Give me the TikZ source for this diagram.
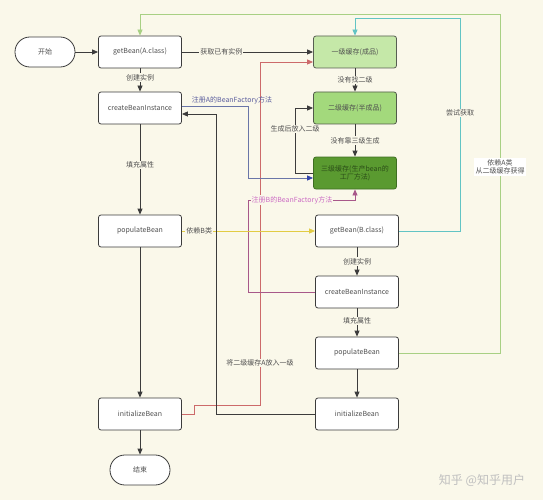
\documentclass[tikz,border=0pt]{standalone}
\usepackage{fontspec}
\setmainfont{Noto Sans CJK SC}
\usetikzlibrary{arrows.meta}
\definecolor{bgc}{HTML}{FAF8EA}
\definecolor{bordc}{HTML}{3C3C3C}
\definecolor{txtc}{HTML}{505050}
\definecolor{gA}{HTML}{C5E8A8}
\definecolor{gB}{HTML}{A3D97C}
\definecolor{gC}{HTML}{5A9A30}
\definecolor{gCb}{HTML}{3E6E22}
\definecolor{bluec}{HTML}{6A76A8}
\definecolor{bluetip}{HTML}{3344AA}
\definecolor{bluetxt}{HTML}{5B5E9E}
\definecolor{pinkc}{HTML}{A8588A}
\definecolor{pinktxt}{HTML}{CC6CC4}
\definecolor{redc}{HTML}{CC6A6A}
\definecolor{yelc}{HTML}{E2CC44}
\definecolor{tealc}{HTML}{62C4C4}
\definecolor{grnc}{HTML}{A8D084}
\tikzset{
  every node/.style={font=\fontsize{7}{8.5}\selectfont, text=txtc},
  box/.style={draw=bordc, fill=white, rounded corners=2.5pt, line width=0.8pt,
    minimum width=83pt, minimum height=32pt, inner sep=0pt, align=center},
  term/.style={draw=bordc, fill=white, rounded corners=14.9pt, line width=0.8pt,
    minimum width=60pt, minimum height=30pt, inner sep=0pt},
  lbl/.style={fill=bgc, inner sep=1pt, text=txtc},
  conn/.style={draw=bordc, line width=0.8pt, -{Triangle[length=6pt,width=5pt]}},
  plain/.style={draw=bordc, line width=0.8pt},
}
\begin{document}
\begin{tikzpicture}[x=1pt,y=-1pt]
\fill[bgc] (0,0) rectangle (543,500);
\useasboundingbox (0,0) rectangle (543,500);

% left column (A)
\node[term] (start) at (45,52) {开始};
\node[box] (gAc) at (140,52) {getBean(A.class)};
\node[box] (cA) at (140,108) {createBeanInstance};
\node[box] (pA) at (140,231) {populateBean};
\node[box] (iA) at (140,414) {initializeBean};
\node[term] (stop) at (140,470) {结束};

% caches
\node[box, fill=gA, draw=bordc!80!gA] (l1) at (355,52) {一级缓存(成品)};
\node[box, fill=gB, draw=bordc!80!gB] (l2) at (355,108) {二级缓存(半成品)};
\node[box, fill=gC, draw=gCb, text=gCb!70!black] (l3) at (355,173) {三级缓存(生产bean的\\工厂方法)};

% right column (B)
\node[box] (gBc) at (357,231) {getBean(B.class)};
\node[box] (cB) at (357,292) {createBeanInstance};
\node[box] (pB) at (357,353) {populateBean};
\node[box] (iB) at (357,414) {initializeBean};

% coordinates for bends
\coordinate (tealtop) at (460,18);
\coordinate (grntop) at (500,14);
\coordinate (blueturn) at (248,178);
\coordinate (pinkturn) at (248,200);
\coordinate (loopl) at (295,173);
\coordinate (blackturn) at (216,114);
\coordinate (red1) at (194,414);
\coordinate (red2) at (194,405);
\coordinate (red3) at (260,405);
\coordinate (red4) at (260,62);

% coloured connectors (behind)
\draw[draw=grnc, line width=0.8pt, -{Triangle[length=6pt,width=5pt]}, -{Triangle[length=6pt,width=5pt,fill=grnc]}]
  (pB.east) -| (grntop) -| (gAc.north);
\node[fill=white, inner sep=1.5pt, align=center] (glbl) at (500,167) {依赖A类\\从二级缓存获得};

\draw[draw=tealc, line width=0.8pt, -{Triangle[length=6pt,width=5pt]}]
  (gBc.east) -| (tealtop) -| (l1.north);
\node[lbl] (tlbl) at (460,113) {尝试获取};

\draw[draw=redc, line width=0.8pt, -{Triangle[length=6pt,width=5pt]}]
  (iA.east) -- (red1) -- (red2) -- (red3) -- (red4) -- (l1.west |- red4);
\node[lbl] (rlbl) at (260,363) {将二级缓存A放入一级};

\draw[draw=bluec, line width=0.8pt, -{Triangle[length=6pt,width=5pt,color=bluetip]}]
  (cA.east |- 0,106) -| (blueturn) -- (l3.west |- blueturn);
\node[text=bluetxt, inner sep=0pt] (blbl) at (232,100) {注册A的BeanFactory方法};

\draw[draw=pinkc, line width=0.8pt, -{Triangle[length=6pt,width=5pt]}]
  (cB.west) -| (pinkturn) -- (l3.south |- pinkturn) -- (l3.south);
\node[lbl, text=pinktxt] (plbl) at (292,200) {注册B的BeanFactory方法};

\draw[draw=yelc, line width=0.8pt, -{Triangle[length=6pt,width=5pt]}]
  (pA.east) -- node[lbl, pos=0.13] {依赖B类} (gBc.west);

% black connectors
\draw[conn] (start) -- (gAc);
\draw[conn] (gAc) -- node[lbl, pos=0.4] {创建实例} (cA);
\draw[conn] (cA) -- node[lbl, pos=0.45] {填充属性} (pA);
\draw[conn] (pA) -- (iA);
\draw[conn] (iA) -- (stop);
\draw[conn] (gAc) -- node[lbl, pos=0.3] {获取已有实例} (l1);
\draw[conn] (l1) -- node[lbl] {没有找二级} (l2);
\draw[conn] (l2) -- node[lbl] {没有靠三级生成} (l3);
\draw[conn] (l3.west) -- (loopl) |- node[lbl, pos=0.34] {生成后放入二级} (l2.west);
\draw[conn] (iB.west) -| (blackturn) -- (cA.east |- blackturn);
\draw[conn] (gBc) -- node[lbl] {创建实例} (cB);
\draw[conn] (cB) -- node[lbl, pos=0.45] {填充属性} (pB);
\draw[conn] (pB) -- (iB);

% watermark
\node[text=black!25, font=\fontsize{12}{14}\selectfont] (wm) at (482,480) {知乎 @知乎用户};
\end{tikzpicture}
\end{document}
